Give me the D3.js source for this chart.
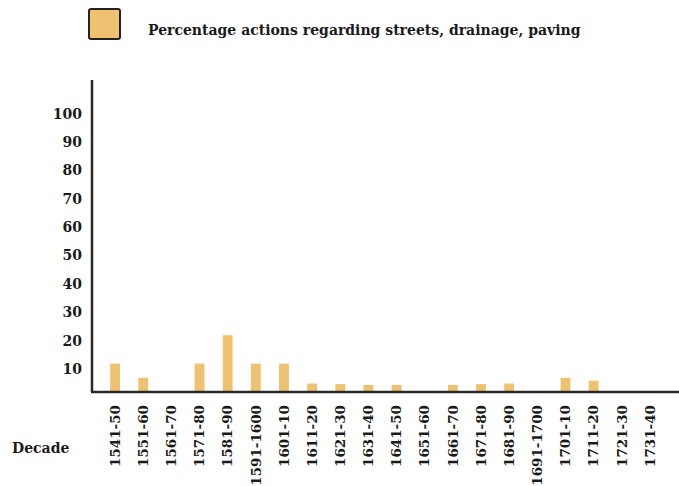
<!DOCTYPE html>
<html>
<head>
<meta charset="utf-8">
<script src="https://cdn.jsdelivr.net/npm/d3@7"></script>
<style>
  body { margin: 0; background: #fff; }
  text { font-family: "DejaVu Serif", "Liberation Serif", serif; font-weight: bold; fill: #1a1a1a; }
</style>
</head>
<body>
<div id="chart"></div>
<script>
// data
let decades = ["1541-50", "1551-60", "1561-70", "1571-80", "1581-90", "1591-1600",
  "1601-10", "1611-20", "1621-30", "1631-40", "1641-50", "1651-60", "1661-70",
  "1671-80", "1681-90", "1691-1700", "1701-10", "1711-20", "1721-30", "1731-40"];
let percentages = [10, 5, 0, 10, 20, 10, 10, 3, 2.8, 2.5, 2.5, 0, 2.5, 2.8, 3, 0, 5, 4, 0, 0];
let yTicks = [10, 20, 30, 40, 50, 60, 70, 80, 90, 100];
let seriesName = "Percentage actions regarding streets, drainage, paving";

let data = decades.map(function(d, i) { return {decade: d, value: percentages[i]}; });

let W = 679, H = 486;
let barColor = "#efc272";

let svg = d3.select("#chart")
  .append("svg")
    .attr("width", W)
    .attr("height", H);

// legend
svg.append("rect")
  .attr("x", 89).attr("y", 9)
  .attr("width", 31).attr("height", 30)
  .attr("rx", 2)
  .style("fill", barColor)
  .style("stroke", "#222")
  .style("stroke-width", 2);

svg.append("text")
  .attr("x", 148)
  .attr("y", 35)
  .style("font-size", "14px")
  .text(seriesName);

// scales
let x = d3.scaleBand()
  .domain(decades)
  .range([101, 664])
  .padding(0);

let y = d3.scaleLinear()
  .domain([0, 110])
  .range([392, 80]);

let barW = x.bandwidth() * 0.35;

// bars
svg.selectAll("rect.bar")
  .data(data)
  .enter()
  .append("rect")
    .attr("class", "bar")
    .attr("x", function(d) { return x(d.decade) + x.bandwidth() / 2 - barW / 2; })
    .attr("y", function(d) { return y(d.value); })
    .attr("width", barW)
    .attr("height", function(d) { return y(0) - y(d.value); })
    .style("fill", barColor);

// y axis
let yAxis = d3.axisLeft(y)
  .tickValues(yTicks)
  .tickSize(0)
  .tickPadding(10);

let gy = svg.append("g")
  .attr("transform", "translate(92,0)")
  .call(yAxis);
gy.select(".domain")
  .attr("d", "M0," + y(110) + "V" + y(0))
  .style("stroke", "#2a2a2a")
  .style("stroke-width", 2.5);
gy.selectAll("text")
  .attr("dy", "0.7em")
  .attr("x", -10)
  .style("font-size", "14px")
  .style("font-family", "'DejaVu Serif', serif");

// x axis
let xAxis = d3.axisBottom(x).tickSize(0).tickPadding(0);

let gx = svg.append("g")
  .attr("transform", "translate(0," + y(0) + ")")
  .call(xAxis);
gx.select(".domain")
  .attr("d", "M91,0H" + W)
  .style("stroke", "#2a2a2a")
  .style("stroke-width", 2.5);
gx.selectAll("text")
  .attr("transform", "rotate(-90)")
  .attr("x", -13)
  .attr("y", 0)
  .attr("dy", "0.35em")
  .style("text-anchor", "end")
  .style("font-size", "13.5px")
  .style("font-family", "'DejaVu Serif', serif");

svg.append("text")
  .attr("x", 12)
  .attr("y", 453)
  .style("font-size", "14px")
  .text("Decade");
</script>
</body>
</html>
